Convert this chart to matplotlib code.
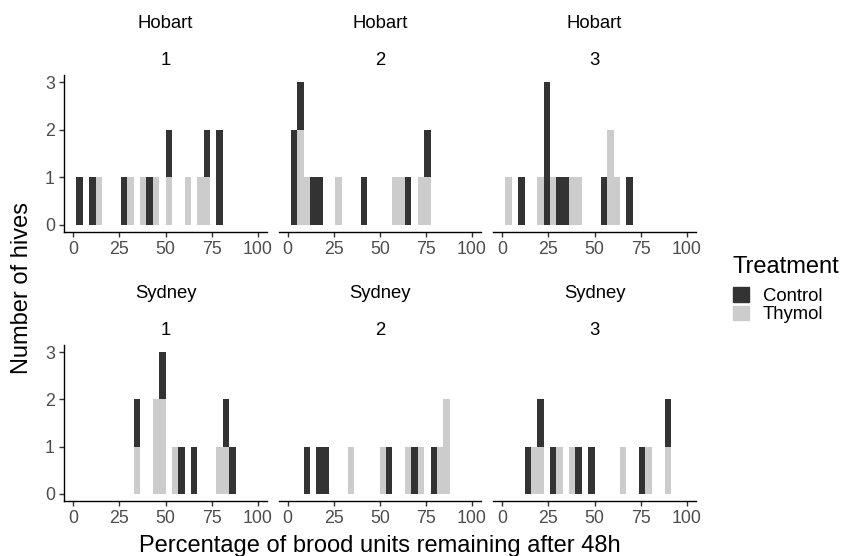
import numpy as np
import matplotlib
matplotlib.use('Agg')
import matplotlib.pyplot as plt
from matplotlib.patches import Patch

plt.rcParams['font.family'] = ['Liberation Sans', 'DejaVu Sans']

# 数据：每个蜂箱剩余子脾百分比
sites = ['Hobart', 'Hobart', 'Hobart', 'Sydney', 'Sydney', 'Sydney']
colonies = ['1', '2', '3', '1', '2', '3']
control = [
    [3, 10, 28, 41, 52, 72, 79, 80],
    [3, 4, 7, 14, 17, 41, 66, 76],
    [10, 24, 24, 25, 31, 35, 55, 69],
    [35, 48, 59, 66, 83, 86],
    [10, 17, 21, 55, 69, 79],
    [14, 21, 28, 41, 48, 76, 90],
]
thymol = [
    [14, 31, 38, 45, 52, 62, 69, 72],
    [6, 8, 10, 28, 59, 62, 72, 76],
    [3, 21, 28, 38, 41, 58, 59, 62],
    [35, 44, 45, 48, 49, 55, 79, 83],
    [35, 52, 66, 72, 83, 86, 87],
    [17, 21, 31, 38, 66, 79, 90],
]
treatments = ['Control', 'Thymol']
colors = ['#333333', '#CCCCCC']
x_ticks = [0, 25, 50, 75, 100]
y_ticks = [0, 1, 2, 3]

W, H = 846, 556


def px(x, y):
    return x / W, 1 - y / H


# 30 个分箱，范围 0-100（与 ggplot 默认一致）
bw = 100 / 29
edges = np.arange(31) * bw - bw / 2
centers = (edges[:-1] + edges[1:]) / 2

fig = plt.figure(figsize=(W / 100, H / 100), dpi=100)

col_x = [(64, 267), (278.5, 481), (493, 696)]
row_y = [(75, 232), (345, 501)]

for i in range(6):
    r, c = divmod(i, 3)
    x0, x1 = col_x[c]
    y0, y1 = row_y[r]
    l, b = px(x0, y1)
    ax = fig.add_axes([l, b, (x1 - x0) / W, (y1 - y0) / H])

    n_c, _ = np.histogram(control[i], bins=edges)
    n_t, _ = np.histogram(thymol[i], bins=edges)
    ax.bar(centers, n_t, width=bw, color=colors[1], linewidth=0)
    ax.bar(centers, n_c, width=bw, bottom=n_t, color=colors[0], linewidth=0)

    ax.set_xlim(-5, 105)
    ax.set_ylim(-0.15, 3.15)
    ax.set_xticks(x_ticks)
    ax.set_yticks(y_ticks)
    for s in ['top', 'right']:
        ax.spines[s].set_visible(False)
    ax.spines['bottom'].set_linewidth(1.0)
    ax.spines['left'].set_linewidth(1.0)
    ax.tick_params(length=3.6, width=1.0, color='#333333', labelcolor='#4D4D4D',
                   labelsize=12.8, pad=3)
    if c != 0:
        ax.spines['left'].set_visible(False)
        ax.set_yticks([])

    xc = (x0 + x1) / 2
    fig.text(*px(xc, y0 - 47), sites[i], ha='center', va='baseline', fontsize=13.3)
    fig.text(*px(xc, y0 - 10), colonies[i], ha='center', va='baseline', fontsize=13.3)

fig.text(*px(380, 552), 'Percentage of brood units remaining after 48h',
         ha='center', va='baseline', fontsize=17)
fig.text(*px(22, 288), 'Number of hives', rotation=90,
         ha='center', va='center', fontsize=17)

# 图例
fig.text(*px(732, 273), 'Treatment', ha='left', va='baseline', fontsize=17)
handles = [Patch(color=colors[0]), Patch(color=colors[1])]
fig.legend(handles, treatments, loc='upper left',
           bbox_to_anchor=px(733, 287), frameon=False, fontsize=13.3,
           handlelength=0.85, handleheight=0.85,
           labelspacing=0.05, handletextpad=0.75, borderpad=0,
           borderaxespad=0)

fig.savefig('out.png', dpi=100)
